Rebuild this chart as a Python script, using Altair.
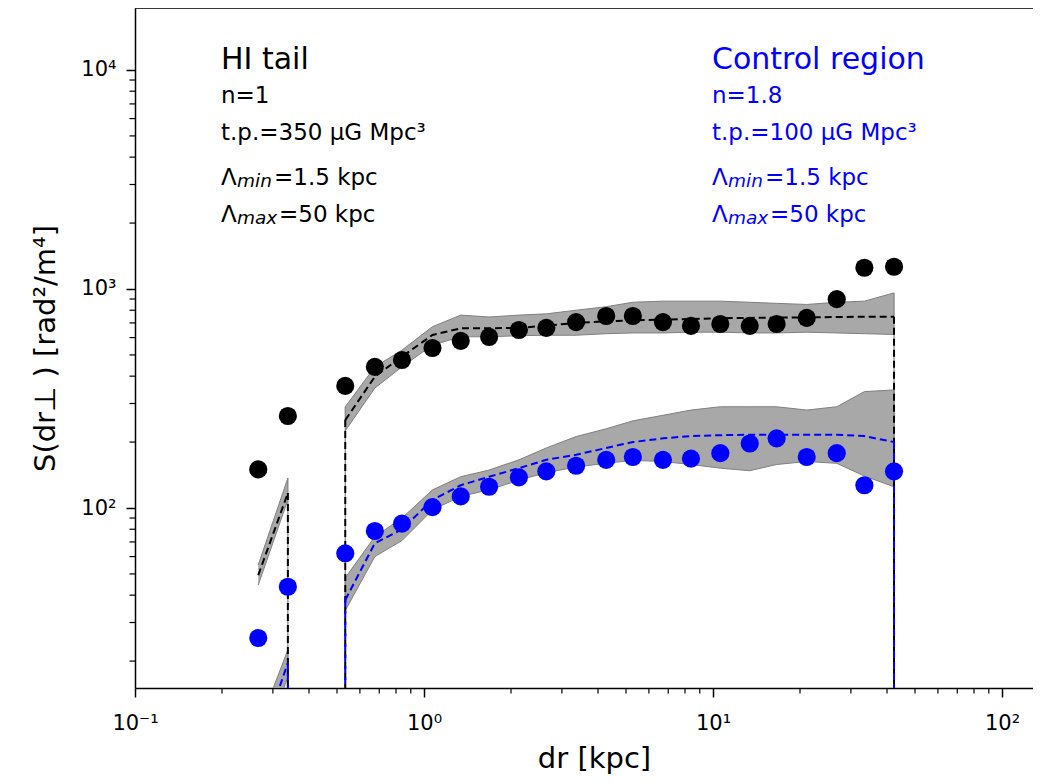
import altair as alt
import pandas as pd

# ---------------- data ----------------
dr_kpc = [0.267, 0.338, 0.427, 0.534, 0.676, 0.839, 1.07, 1.34, 1.68, 2.13, 2.65,
          3.36, 4.27, 5.28, 6.71, 8.39, 10.6, 13.4, 16.6, 21.1, 26.8, 33.4, 42.3]

hi_obs = [150, 263, None, 361, 441, 474, 538, 580, 604, 650, 665,
          706, 753, 753, 706, 679, 692, 679, 692, 738, 899, 1250, 1264]
ctrl_obs = [25.5, 43.7, None, 62.1, 78.5, 84.8, 101, 113, 125, 138, 147,
            156, 166, 171, 166, 168, 178, 197, 208, 171, 178, 127, 147]

hi_model = [49.4, 117, None, 252, 398, 491, 617, 661, 662, 664, 680,
            700, 712, 720, 725, 730, 735, 738, 740, 742, 745, 747, 747]
ctrl_model = [8.0, 19.6, None, 38, 69, 80, 109, 127, 139, 152, 166,
              175, 188, 200, 208, 213, 215, 216, 216, 216, 216, 213, 200]

# envelope of the grey simulated realisations
hi_sim_upper = [55, 137, None, 290, 441, 526, 673, 760, 745, 760, 770,
                800, 830, 870, 880, 880, 880, 870, 860, 850, 870, 880, 960]
hi_sim_lower = [44.5, 109, None, 225, 353, 441, 555, 605, 605, 612, 615,
                615, 625, 630, 630, 635, 635, 630, 630, 635, 630, 625, 620]
ctrl_sim_upper = [10, 22.5, None, 48, 74, 90, 121, 139, 149, 166, 188,
                  212, 230, 250, 265, 280, 290, 290, 290, 280, 290, 340, 346]
ctrl_sim_lower = [7, 17, None, 34, 60, 71, 98, 113, 121, 134, 145,
                  154, 160, 165, 163, 158, 152, 148, 158, 163, 160, 140, 125]

x_major = [0.1, 1, 10, 100]
x_minor = [0.2, 0.3, 0.4, 0.5, 0.6, 0.7, 0.8, 0.9,
           2, 3, 4, 5, 6, 7, 8, 9, 20, 30, 40, 50, 60, 70, 80, 90]
y_major = [100, 1000, 10000]
y_minor = [20, 30, 40, 50, 60, 70, 80, 90, 200, 300, 400, 500, 600, 700, 800, 900,
           2000, 3000, 4000, 5000, 6000, 7000, 8000, 9000]

hi_text = ["HI tail", "n=1", "t.p.=350 \u03bcG Mpc\u00b3", "=1.5 kpc", "=50 kpc"]
ctrl_text = ["Control region", "n=1.8", "t.p.=100 \u03bcG Mpc\u00b3", "=1.5 kpc", "=50 kpc"]

# ---------------- layout ----------------
W, H = 898, 680
X_DOMAIN = [0.1, 128]
Y_DOMAIN = [15.07, 19190]
FONT = "DejaVu Sans"
BLUE = "#0000ff"


def segments(values):
    rows, seg = [], 0
    for x, v in zip(dr_kpc, values):
        if v is None:
            seg += 1
            continue
        rows.append({"x": x, "y": v, "seg": seg})
    return pd.DataFrame(rows)


def drops(values):
    df = segments(values)
    out = []
    for s, g in df.groupby("seg"):
        g = g.sort_values("x")
        if g.index[0] != 0:
            out.append(g.iloc[0].to_dict())
        out.append(g.iloc[-1].to_dict())
    return pd.DataFrame(out)


def band(upper, lower, name):
    up = segments(upper)
    lo = segments(lower)
    up["lo"] = lo["y"].values
    up["key"] = name + up["seg"].astype(str)
    return up


xs = alt.Scale(type="log", domain=X_DOMAIN)
ys = alt.Scale(type="log", domain=Y_DOMAIN)

x_axis = alt.Axis(
    values=x_major,
    labelExpr="datum.value < 0.5 ? '10\u207b\u00b9' : datum.value < 5 ? '10\u2070' : datum.value < 50 ? '10\u00b9' : '10\u00b2'",
    title="dr [kpc]", grid=False, tickSize=9, tickWidth=1.5, tickColor="black",
    domainColor="black", domainWidth=1.5, labelFontSize=21, labelFont=FONT,
    labelColor="black", labelPadding=15, labelFlush=False, labelOverlap=False,
    titleFontSize=29, titleFont=FONT, titleFontWeight="normal", titleColor="black",
    titlePadding=11, titleX=459,
)
y_axis = alt.Axis(
    values=y_major,
    labelExpr="datum.value < 500 ? '10\u00b2' : datum.value < 5000 ? '10\u00b3' : '10\u2074'",
    title="S(dr\u22a5 ) [rad\u00b2/m\u2074]", grid=False, tickSize=9, tickWidth=1.5,
    tickColor="black", domainColor="black", domainWidth=1.5, labelFontSize=21,
    labelFont=FONT, labelColor="black", labelPadding=10, labelFlush=False,
    labelOverlap=False, titleFontSize=29, titleFont=FONT, titleFontWeight="normal",
    titleColor="black", titlePadding=20,
)


def X(field="x"):
    return alt.X(field, type="quantitative", scale=xs, axis=x_axis)


def Y(field="y"):
    return alt.Y(field, type="quantitative", scale=ys, axis=y_axis)


layers = []

# grey simulated realisations (envelopes)
for up, lo, name in [(hi_sim_upper, hi_sim_lower, "hi"), (ctrl_sim_upper, ctrl_sim_lower, "ctrl")]:
    bdf = band(up, lo, name)
    layers.append(alt.Chart(bdf).mark_area(color="#999999", opacity=0.85, clip=True).encode(
        x=X(), y=Y(), y2="lo:Q", detail="key:N"))
    layers.append(alt.Chart(bdf).mark_line(color="#808080", strokeWidth=1, clip=True).encode(
        x=X(), y=Y(), detail="key:N"))
    layers.append(alt.Chart(bdf).mark_line(color="#808080", strokeWidth=1, clip=True).encode(
        x=X(), y=Y("lo"), detail="key:N"))
    layers.append(alt.Chart(drops(up)).mark_rule(color="#808080", strokeWidth=1.2, clip=True).encode(
        x=X(), y=Y(), y2=alt.value(H)))

# model medians (dashed)
for vals, col in [(hi_model, "black"), (ctrl_model, BLUE)]:
    layers.append(alt.Chart(segments(vals)).mark_line(color=col, strokeWidth=2, strokeDash=[7, 4], clip=True).encode(
        x=X(), y=Y(), detail="seg:N"))
    layers.append(alt.Chart(drops(vals)).mark_rule(color=col, strokeWidth=2, strokeDash=[7, 4], clip=True).encode(
        x=X(), y=Y(), y2=alt.value(H)))

# observed points
for vals, col in [(hi_obs, "black"), (ctrl_obs, BLUE)]:
    layers.append(alt.Chart(segments(vals)).mark_circle(color=col, size=330, opacity=1, clip=True).encode(
        x=X(), y=Y()))

# minor ticks
layers.append(alt.Chart(pd.DataFrame({"x": x_minor})).mark_rule(color="black", strokeWidth=1.2).encode(
    x=X(), y=alt.value(H), y2=alt.value(H + 5.5)))
layers.append(alt.Chart(pd.DataFrame({"y": y_minor})).mark_rule(color="black", strokeWidth=1.2).encode(
    y=Y(), x=alt.value(0), x2=alt.value(-5.5)))

# top spine
layers.append(alt.Chart(pd.DataFrame({"a": [0]})).mark_rule(color="black", strokeWidth=1.5).encode(
    x=alt.value(0), x2=alt.value(W), y=alt.value(0)))


def text(t, px, py, size, color, italic=False):
    return alt.Chart(pd.DataFrame({"t": [t]})).mark_text(
        align="left", baseline="alphabetic", font=FONT, fontSize=size, color=color,
        fontStyle="italic" if italic else "normal").encode(
        text="t:N", x=alt.value(px), y=alt.value(py))


for texts, x0, col in [(hi_text, 86, "black"), (ctrl_text, 577, BLUE)]:
    layers.append(text(texts[0], x0, 61, 30, col))
    layers.append(text(texts[1], x0, 95, 23, col))
    layers.append(text(texts[2], x0, 132, 23, col))
    layers.append(text("\u039b", x0, 177, 23, col))
    layers.append(text("min", x0 + 16, 179, 18.5, col, italic=True))
    layers.append(text(texts[3], x0 + 53, 177, 23, col))
    layers.append(text("\u039b", x0, 214, 23, col))
    layers.append(text("max", x0 + 16, 216, 18.5, col, italic=True))
    layers.append(text(texts[4], x0 + 58, 214, 23, col))

chart = alt.layer(*layers).properties(
    width=W, height=H,
    padding={"left": 127, "top": 0, "right": 0, "bottom": 88},
    autosize=alt.AutoSizeParams(type="none"),
).configure_view(stroke=None).configure(background="white")

chart.save("out.html", embed_options={"renderer": "svg", "actions": False})
